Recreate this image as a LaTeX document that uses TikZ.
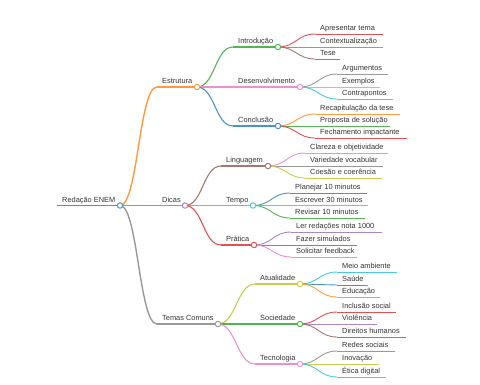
\documentclass[tikz,border=0pt]{standalone}
\usepackage{fontspec}
\setmainfont{Liberation Sans}
\usepackage{xcolor}
\usepackage{tikz}

\definecolor{mblue}{HTML}{4C92C3}
\definecolor{morange}{HTML}{FF993E}
\definecolor{mgreen}{HTML}{56B356}
\definecolor{mred}{HTML}{DE5253}
\definecolor{mpurple}{HTML}{A985CA}
\definecolor{mbrown}{HTML}{A3786F}
\definecolor{mpink}{HTML}{E992CE}
\definecolor{mgray}{HTML}{999999}
\definecolor{molive}{HTML}{C9CA4E}
\definecolor{mcyan}{HTML}{45CBD9}
\definecolor{txtgray}{HTML}{333333}

\begin{document}
\begin{tikzpicture}[
    x=1pt, y=-1pt,
    lbl/.style={anchor=base west, inner sep=0pt, xshift=5pt, yshift=3.3pt,
      text=txtgray, font=\fontsize{7.4}{9}\selectfont},
    link/.style={to path={.. controls +(18,0) and +(-18,0) .. (\tikztotarget)}},
    dot/.style={circle, draw, fill=white, inner sep=0pt, minimum size=5.4pt, line width=1pt},
    lv0/.style={line width=1.9pt},
    lv1/.style={line width=1.4pt},
    lv2/.style={line width=1.1pt},
    lv3/.style={line width=0.9pt},
  ]
  \useasboundingbox (0,0) rectangle (480,384);

  % root
  \draw[mblue, lv0] (57,205.5) coordinate (root-s) -- (120,205.5) coordinate (root-e);
  \node[lbl] (root) at (root-s) {Redação ENEM};

  % first level
  \draw[morange, lv1] (157,87) coordinate (estr-s) -- (197,87) coordinate (estr-e);
  \node[lbl] (estr) at (estr-s) {Estrutura};
  \draw[morange, lv1, link] (root-e) to (estr-s);

  \draw[mpurple, lv1] (157,205.5) coordinate (dicas-s) -- (185,205.5) coordinate (dicas-e);
  \node[lbl] (dicas) at (dicas-s) {Dicas};
  \draw[mpurple, lv1, link] (root-e) to (dicas-s);

  \draw[mgray, lv1] (157,324) coordinate (temas-s) -- (218,324) coordinate (temas-e);
  \node[lbl] (temas) at (temas-s) {Temas Comuns};
  \draw[mgray, lv1, link] (root-e) to (temas-s);

  % Estrutura
  \draw[mgreen, lv2] (233,47) coordinate (intro-s) -- (278,47) coordinate (intro-e);
  \node[lbl] (intro) at (intro-s) {Introdução};
  \draw[mgreen, lv2, link] (estr-e) to (intro-s);

  \draw[mpink, lv2] (233,87) coordinate (desenv-s) -- (300,87) coordinate (desenv-e);
  \node[lbl] (desenv) at (desenv-s) {Desenvolvimento};
  \draw[mpink, lv2, link] (estr-e) to (desenv-s);

  \draw[mblue, lv2] (233,126) coordinate (concl-s) -- (278,126) coordinate (concl-e);
  \node[lbl] (concl) at (concl-s) {Conclusão};
  \draw[mblue, lv2, link] (estr-e) to (concl-s);

  % Introdução
  \draw[mred, lv3] (315,34) coordinate (apres-s) -- (383,34) coordinate (apres-e);
  \node[lbl] (apres) at (apres-s) {Apresentar tema};
  \draw[mred, lv3, link] (intro-e) to (apres-s);

  \draw[mpurple, lv3] (315,47) coordinate (contex-s) -- (383,47) coordinate (contex-e);
  \node[lbl] (contex) at (contex-s) {Contextualização};
  \draw[mpurple, lv3, link] (intro-e) to (contex-s);

  \draw[mbrown, lv3] (315,59) coordinate (tese-s) -- (340,59) coordinate (tese-e);
  \node[lbl] (tese) at (tese-s) {Tese};
  \draw[mbrown, lv3, link] (intro-e) to (tese-s);

  % Desenvolvimento
  \draw[mgray, lv3] (337,74) coordinate (argum-s) -- (388,74) coordinate (argum-e);
  \node[lbl] (argum) at (argum-s) {Argumentos};
  \draw[mgray, lv3, link] (desenv-e) to (argum-s);

  \draw[molive, lv3] (337,87) coordinate (exemp-s) -- (380,87) coordinate (exemp-e);
  \node[lbl] (exemp) at (exemp-s) {Exemplos};
  \draw[molive, lv3, link] (desenv-e) to (exemp-s);

  \draw[mcyan, lv3] (337,99) coordinate (contra-s) -- (393,99) coordinate (contra-e);
  \node[lbl] (contra) at (contra-s) {Contrapontos};
  \draw[mcyan, lv3, link] (desenv-e) to (contra-s);

  % Conclusão
  \draw[morange, lv3] (315,114) coordinate (recap-s) -- (400,114) coordinate (recap-e);
  \node[lbl] (recap) at (recap-s) {Recapitulação da tese};
  \draw[morange, lv3, link] (concl-e) to (recap-s);

  \draw[mgreen, lv3] (315,126) coordinate (propo-s) -- (390,126) coordinate (propo-e);
  \node[lbl] (propo) at (propo-s) {Proposta de solução};
  \draw[mgreen, lv3, link] (concl-e) to (propo-s);

  \draw[mred, lv3] (315,138) coordinate (fecha-s) -- (407,138) coordinate (fecha-e);
  \node[lbl] (fecha) at (fecha-s) {Fechamento impactante};
  \draw[mred, lv3, link] (concl-e) to (fecha-s);

  % Dicas
  \draw[mbrown, lv2] (221,166) coordinate (ling-s) -- (268,166) coordinate (ling-e);
  \node[lbl] (ling) at (ling-s) {Linguagem};
  \draw[mbrown, lv2, link] (dicas-e) to (ling-s);

  \draw[mcyan, lv2] (221,205.5) coordinate (tempo-s) -- (253,205.5) coordinate (tempo-e);
  \node[lbl] (tempo) at (tempo-s) {Tempo};
  \draw[mcyan, lv2, link] (dicas-e) to (tempo-s);

  \draw[mred, lv2] (221,245) coordinate (prat-s) -- (254,245) coordinate (prat-e);
  \node[lbl] (prat) at (prat-s) {Prática};
  \draw[mred, lv2, link] (dicas-e) to (prat-s);

  % Linguagem
  \draw[mpink, lv3] (305,153) coordinate (clar-s) -- (388,153) coordinate (clar-e);
  \node[lbl] (clar) at (clar-s) {Clareza e objetividade};
  \draw[mpink, lv3, link] (ling-e) to (clar-s);

  \draw[mgray, lv3] (305,166) coordinate (vocab-s) -- (383,166) coordinate (vocab-e);
  \node[lbl] (vocab) at (vocab-s) {Variedade vocabular};
  \draw[mgray, lv3, link] (ling-e) to (vocab-s);

  \draw[molive, lv3] (305,178) coordinate (coes-s) -- (382,178) coordinate (coes-e);
  \node[lbl] (coes) at (coes-s) {Coesão e coerência};
  \draw[molive, lv3, link] (ling-e) to (coes-s);

  % Tempo
  \draw[mblue, lv3] (290,193) coordinate (plan-s) -- (367,193) coordinate (plan-e);
  \node[lbl] (plan) at (plan-s) {Planejar 10 minutos};
  \draw[mblue, lv3, link] (tempo-e) to (plan-s);

  \draw[morange, lv3] (290,205.5) coordinate (escr-s) -- (368,205.5) coordinate (escr-e);
  \node[lbl] (escr) at (escr-s) {Escrever 30 minutos};
  \draw[morange, lv3, link] (tempo-e) to (escr-s);

  \draw[mgreen, lv3] (290,218) coordinate (revis-s) -- (365,218) coordinate (revis-e);
  \node[lbl] (revis) at (revis-s) {Revisar 10 minutos};
  \draw[mgreen, lv3, link] (tempo-e) to (revis-s);

  % Prática
  \draw[mpurple, lv3] (291,232) coordinate (ler-s) -- (382,232) coordinate (ler-e);
  \node[lbl] (ler) at (ler-s) {Ler redações nota 1000};
  \draw[mpurple, lv3, link] (prat-e) to (ler-s);

  \draw[mbrown, lv3] (291,245) coordinate (simul-s) -- (357,245) coordinate (simul-e);
  \node[lbl] (simul) at (simul-s) {Fazer simulados};
  \draw[mbrown, lv3, link] (prat-e) to (simul-s);

  \draw[mpink, lv3] (291,257) coordinate (feed-s) -- (357,257) coordinate (feed-e);
  \node[lbl] (feed) at (feed-s) {Solicitar feedback};
  \draw[mpink, lv3, link] (prat-e) to (feed-s);

  % Temas Comuns
  \draw[molive, lv2] (255,284) coordinate (atual-s) -- (300,284) coordinate (atual-e);
  \node[lbl] (atual) at (atual-s) {Atualidade};
  \draw[molive, lv2, link] (temas-e) to (atual-s);

  \draw[mgreen, lv2] (255,324) coordinate (soc-s) -- (300,324) coordinate (soc-e);
  \node[lbl] (soc) at (soc-s) {Sociedade};
  \draw[mgreen, lv2, link] (temas-e) to (soc-s);

  \draw[mpink, lv2] (255,364) coordinate (tec-s) -- (300,364) coordinate (tec-e);
  \node[lbl] (tec) at (tec-s) {Tecnologia};
  \draw[mpink, lv2, link] (temas-e) to (tec-s);

  % Atualidade
  \draw[mcyan, lv3] (337,272) coordinate (meio-s) -- (397,272) coordinate (meio-e);
  \node[lbl] (meio) at (meio-s) {Meio ambiente};
  \draw[mcyan, lv3, link] (atual-e) to (meio-s);

  \draw[mblue, lv3] (337,285) coordinate (saude-s) -- (368,285) coordinate (saude-e);
  \node[lbl] (saude) at (saude-s) {Saúde};
  \draw[mblue, lv3, link] (atual-e) to (saude-s);

  \draw[morange, lv3] (337,297) coordinate (educ-s) -- (380,297) coordinate (educ-e);
  \node[lbl] (educ) at (educ-s) {Educação};
  \draw[morange, lv3, link] (atual-e) to (educ-s);

  % Sociedade
  \draw[mred, lv3] (337,312) coordinate (incl-s) -- (396,312) coordinate (incl-e);
  \node[lbl] (incl) at (incl-s) {Inclusão social};
  \draw[mred, lv3, link] (soc-e) to (incl-s);

  \draw[mpurple, lv3] (337,324) coordinate (viol-s) -- (377,324) coordinate (viol-e);
  \node[lbl] (viol) at (viol-s) {Violência};
  \draw[mpurple, lv3, link] (soc-e) to (viol-s);

  \draw[mbrown, lv3] (337,337) coordinate (direit-s) -- (406,337) coordinate (direit-e);
  \node[lbl] (direit) at (direit-s) {Direitos humanos};
  \draw[mbrown, lv3, link] (soc-e) to (direit-s);

  % Tecnologia
  \draw[mgray, lv3] (337,351) coordinate (redes-s) -- (395,351) coordinate (redes-e);
  \node[lbl] (redes) at (redes-s) {Redes sociais};
  \draw[mgray, lv3, link] (tec-e) to (redes-s);

  \draw[molive, lv3] (337,364) coordinate (inov-s) -- (379,364) coordinate (inov-e);
  \node[lbl] (inov) at (inov-s) {Inovação};
  \draw[molive, lv3, link] (tec-e) to (inov-s);

  \draw[mcyan, lv3] (337,377) coordinate (etica-s) -- (386,377) coordinate (etica-e);
  \node[lbl] (etica) at (etica-s) {Ética digital};
  \draw[mcyan, lv3, link] (tec-e) to (etica-s);

  % circles on top of the joints
  \node[dot, draw=mblue] (root-c) at (root-e) {};
  \node[dot, draw=morange] (estr-c) at (estr-e) {};
  \node[dot, draw=mpurple] (dicas-c) at (dicas-e) {};
  \node[dot, draw=mgray] (temas-c) at (temas-e) {};
  \node[dot, draw=mgreen] (intro-c) at (intro-e) {};
  \node[dot, draw=mpink] (desenv-c) at (desenv-e) {};
  \node[dot, draw=mblue] (concl-c) at (concl-e) {};
  \node[dot, draw=mbrown] (ling-c) at (ling-e) {};
  \node[dot, draw=mcyan] (tempo-c) at (tempo-e) {};
  \node[dot, draw=mred] (prat-c) at (prat-e) {};
  \node[dot, draw=molive] (atual-c) at (atual-e) {};
  \node[dot, draw=mgreen] (soc-c) at (soc-e) {};
  \node[dot, draw=mpink] (tec-c) at (tec-e) {};
\end{tikzpicture}
\end{document}
